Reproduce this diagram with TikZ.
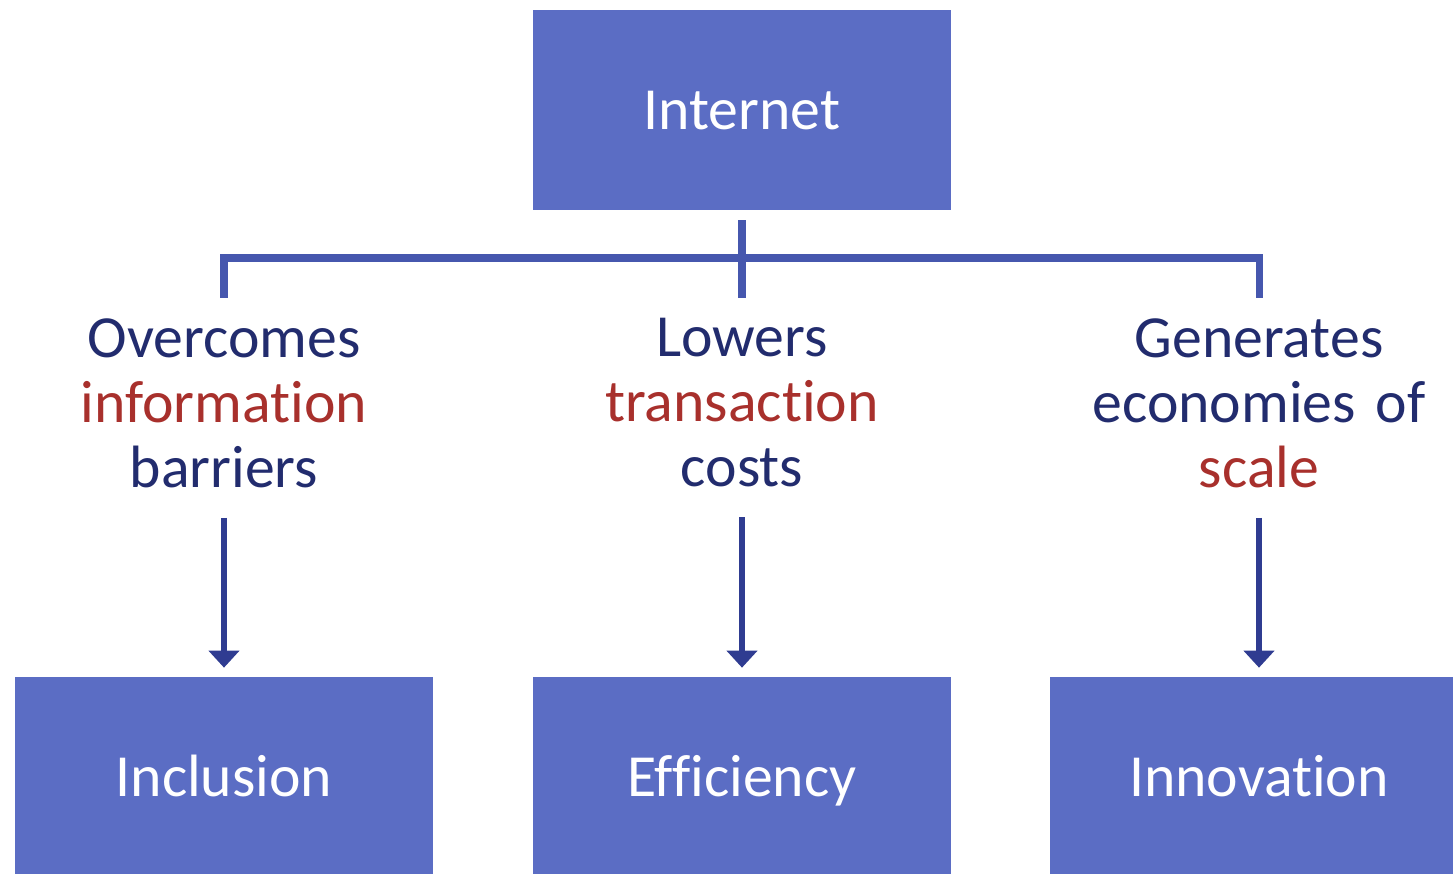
\documentclass[tikz,border=0pt]{standalone}
\usepackage{fontspec}
\setmainfont{Carlito}[Ligatures=NoCommon]
\usepackage{xcolor}
\usetikzlibrary{arrows.meta}
\definecolor{boxblue}{HTML}{5B6DC4}
\definecolor{linkblue}{HTML}{4657AE}
\definecolor{arrowblue}{HTML}{2F3C91}
\definecolor{textblue}{HTML}{222C6E}
\definecolor{textred}{HTML}{A8302C}
\tikzset{
    blue-box/.style = {fill=boxblue, text=white, rectangle, minimum width=8.36cm, minimum height=4cm, inner sep=0pt, text height=26pt, text depth=4pt, font=\fontsize{34}{37}\selectfont},
    effect-label/.style = {text=textblue, text width=7.6cm, align=center, anchor=north, inner xsep=0pt, inner ysep=0.4cm, font=\fontsize{34}{37}\selectfont},
    link-line/.style = {draw=linkblue, line width=4pt},
    effect-arrow/.style = {draw=arrowblue, line width=3.4pt, -{Triangle[width=0.6cm, length=0.34cm]}},
}
\newcommand{\hl}[1]{\textcolor{textred}{#1}}

\begin{document}
\begin{tikzpicture}[x=0.02cm, y=-0.02cm]
\useasboundingbox[fill=white] (0,0) rectangle (1453,874);
\node[blue-box] (internet) at (742,110) {Internet};
\coordinate (bar) at (742,258);
\node[effect-label] (overcomes) at (224,298) {Overcomes\\ \hl{information}\\ barriers};
\node[effect-label] (lowers) at (742,298) {Lowers\\ \hl{transaction}\\ costs};
\node[effect-label] (generates) at (1259,298) {Generates\\ economies of\\ \hl{scale}};
\node[blue-box] (inclusion) at (224,777) {Inclusion};
\node[blue-box] (efficiency) at (742,777) {Efficiency};
\node[blue-box] (innovation) at (1259,777) {Innovation};
% tree from the top box
\draw[link-line, shorten <=0.2cm] (internet.south) -- (lowers.north);
\draw[link-line] (overcomes.north) |- (bar) -| (generates.north);
% effects
\draw[effect-arrow, shorten <=0.2cm, shorten >=0.18cm] (overcomes.south) -- (inclusion.north);
\draw[effect-arrow, shorten <=0.2cm, shorten >=0.18cm] (lowers.south) -- (efficiency.north);
\draw[effect-arrow, shorten <=0.2cm, shorten >=0.18cm] (generates.south) -- (innovation.north);
\end{tikzpicture}
\end{document}
